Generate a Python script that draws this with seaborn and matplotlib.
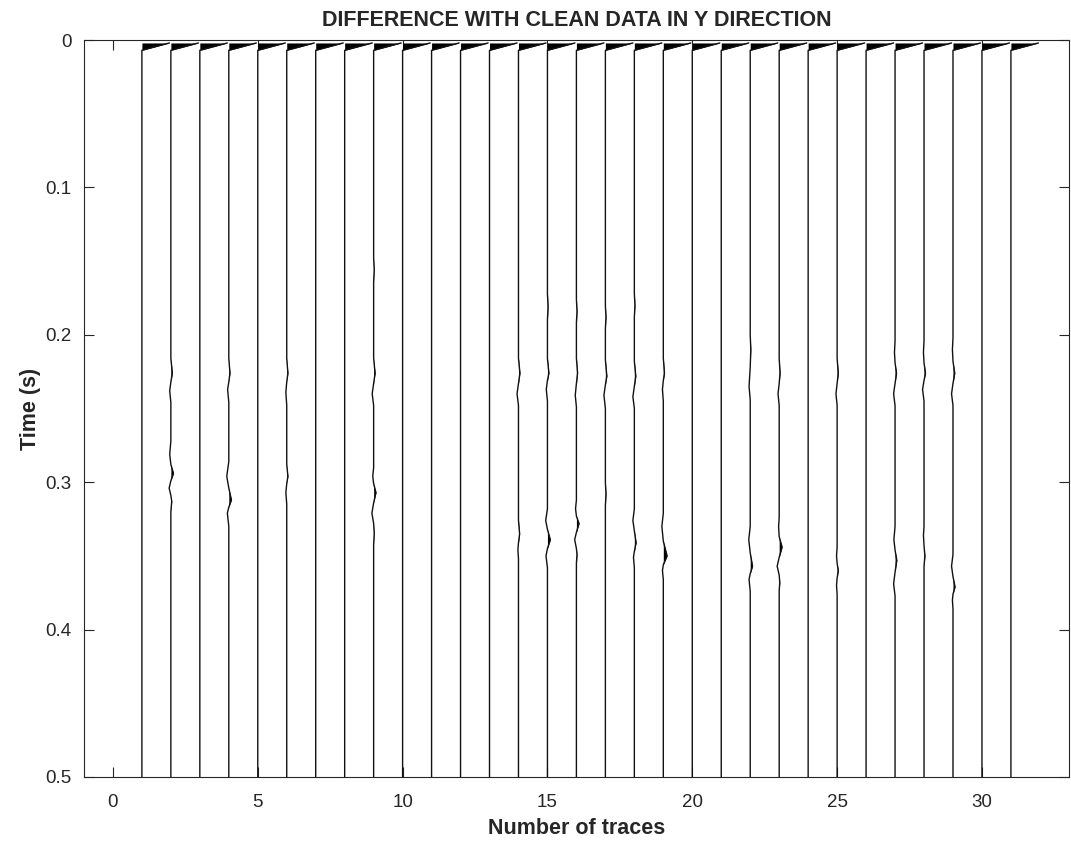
import numpy as np
import pandas as pd
import matplotlib
matplotlib.use("Agg")
import matplotlib.pyplot as plt
import seaborn as sns

# ---------------- data ----------------
trace_ids = list(range(1, 32))
spike_top = 0.002          # first-break spike time (s)
spike_end = 0.007
spike_amp = [0.95] * 31    # spike amplitude of each trace (in trace spacing units)

# small residual wiggles: times (s) and amplitudes for traces that show them
wiggle_t = {
    2:  [0.216, 0.226, 0.232, 0.238, 0.246, 0.272, 0.281, 0.288, 0.294, 0.299, 0.304, 0.309, 0.313, 0.320],
    4:  [0.216, 0.226, 0.232, 0.237, 0.246, 0.286, 0.296, 0.304, 0.312, 0.317, 0.321, 0.330],
    6:  [0.216, 0.226, 0.232, 0.239, 0.248, 0.288, 0.296, 0.301, 0.307, 0.315],
    9:  [0.148, 0.156, 0.164, 0.216, 0.226, 0.233, 0.240, 0.248, 0.290, 0.296, 0.301, 0.307, 0.314, 0.321, 0.328, 0.335, 0.342],
    14: [0.216, 0.226, 0.233, 0.240, 0.248, 0.326, 0.335, 0.341, 0.346, 0.352],
    15: [0.172, 0.181, 0.190, 0.216, 0.226, 0.231, 0.237, 0.245, 0.318, 0.326, 0.332, 0.339, 0.345, 0.350, 0.358],
    16: [0.176, 0.184, 0.192, 0.216, 0.226, 0.233, 0.241, 0.249, 0.312, 0.318, 0.323, 0.328, 0.334, 0.339, 0.345, 0.349, 0.355],
    17: [0.180, 0.188, 0.196, 0.217, 0.228, 0.234, 0.241, 0.250, 0.300, 0.308, 0.316],
    18: [0.172, 0.180, 0.188, 0.218, 0.228, 0.235, 0.242, 0.250, 0.318, 0.326, 0.333, 0.341, 0.347, 0.351, 0.358],
    19: [0.216, 0.226, 0.231, 0.237, 0.245, 0.321, 0.330, 0.340, 0.350, 0.356, 0.360, 0.366],
    22: [0.200, 0.210, 0.222, 0.235, 0.244, 0.330, 0.339, 0.348, 0.357, 0.362, 0.366, 0.374],
    23: [0.216, 0.226, 0.233, 0.240, 0.248, 0.324, 0.330, 0.337, 0.344, 0.351, 0.357, 0.363, 0.368, 0.374],
    25: [0.216, 0.226, 0.233, 0.240, 0.248, 0.344, 0.350, 0.355, 0.360, 0.365, 0.370, 0.376],
    27: [0.204, 0.212, 0.219, 0.226, 0.233, 0.240, 0.248, 0.330, 0.339, 0.346, 0.353, 0.361, 0.369, 0.377],
    28: [0.204, 0.212, 0.219, 0.226, 0.231, 0.237, 0.245, 0.330, 0.336, 0.343, 0.350, 0.357, 0.364],
    29: [0.202, 0.210, 0.218, 0.226, 0.233, 0.240, 0.248, 0.349, 0.357, 0.364, 0.371, 0.376, 0.380, 0.386],
}
wiggle_a = {
    2:  [0, 0.05, 0, -0.04, 0, 0, -0.04, 0, 0.09, 0, -0.06, 0, 0.03, 0],
    4:  [0, 0.04, 0, -0.04, 0, 0, -0.07, 0, 0.09, 0, -0.05, 0],
    6:  [0, 0.04, 0, -0.03, 0, 0, 0.04, 0, -0.03, 0],
    9:  [0, 0.02, 0, 0, 0.05, 0, -0.05, 0, 0, -0.03, 0, 0.08, 0, -0.06, 0, 0.02, 0],
    14: [0, 0.05, 0, -0.05, 0, 0, 0.04, 0, -0.02, 0],
    15: [0, 0.02, 0, 0, 0.05, 0, -0.04, 0, 0, -0.06, 0, 0.10, 0, -0.05, 0],
    16: [0, 0.02, 0, 0, 0.04, 0, -0.04, 0, 0, -0.03, 0, 0.09, 0, -0.06, 0, 0.02, 0],
    17: [0, 0.02, 0, 0, 0.05, 0, -0.05, 0, 0, 0.02, 0],
    18: [0, 0.02, 0, 0, 0.05, 0, -0.05, 0, 0, -0.05, 0, 0.06, 0, -0.03, 0],
    19: [0, 0.04, 0, -0.03, 0, 0, -0.05, 0, 0.13, 0, -0.03, 0],
    22: [0, 0.02, 0, -0.04, 0, 0, -0.05, 0, 0.08, 0, -0.04, 0],
    23: [0, 0.03, 0, -0.04, 0, 0, -0.02, 0, 0.10, 0, -0.07, 0, 0.02, 0],
    25: [0, 0.04, 0, -0.04, 0, 0, -0.02, 0, 0.04, 0, -0.02, 0],
    27: [0, -0.02, 0, 0.05, 0, -0.05, 0, 0, -0.04, 0, 0.06, 0, -0.05, 0],
    28: [0, -0.02, 0, 0.05, 0, -0.05, 0, 0, -0.02, 0, 0.03, 0, 0],
    29: [0, -0.02, 0, 0.06, 0, -0.05, 0, 0, -0.05, 0, 0.07, 0, -0.02, 0],
}
t_max = 0.5

# ---------------- build long table ----------------
rows = []
fills = []
for i, k in enumerate(trace_ids):
    ts = [spike_top, spike_end]
    amps = [spike_amp[i], 0.0]
    if k in wiggle_t:
        ts += wiggle_t[k]
        amps += wiggle_a[k]
    ts.append(t_max)
    amps.append(0.0)
    for order, (t, a) in enumerate(zip(ts, amps)):
        rows.append({"trace": k, "order": order, "time": t, "x": k + a})
    fills.append((k, np.array(ts), np.array(amps)))
df = pd.DataFrame(rows)

# ---------------- plot ----------------
sns.set_theme(style="white")
plt.rcParams["font.family"] = ["Liberation Sans", "DejaVu Sans"]

fig = plt.figure(figsize=(10.71, 8.44), dpi=100)
ax = fig.add_axes([0.0784, 0.0794, 0.9196, 0.8732])

sns.lineplot(data=df, x="x", y="time", units="trace", estimator=None,
             sort=False, color="#111111", linewidth=1.0, ax=ax, legend=False)

for k, ts, amps in fills:
    ax.fill_betweenx(ts, k, k + np.clip(amps, 0, None), color="black", linewidth=0)

ax.set_xlim(-1, 33)
ax.set_ylim(0.5, 0)
ax.set_xticks(range(0, 31, 5))
ax.set_yticks([0, 0.1, 0.2, 0.3, 0.4, 0.5])
ax.set_yticklabels(["0", "0.1", "0.2", "0.3", "0.4", "0.5"])

axis_col = "#262626"
for s in ax.spines.values():
    s.set_visible(True)
    s.set_color(axis_col)
    s.set_linewidth(0.8)
ax.tick_params(which="both", direction="in", length=7, width=0.8, color=axis_col,
               labelcolor=axis_col, labelsize=13.5, top=True, right=True,
               bottom=True, left=True)
ax.tick_params(axis="x", pad=12)
ax.tick_params(axis="y", pad=9)

ax.set_title("DIFFERENCE WITH CLEAN DATA IN Y DIRECTION", fontsize=15.5,
             fontweight="bold", pad=10)
ax.set_xlabel("Number of traces", fontsize=15.5, fontweight="bold", color=axis_col, labelpad=5)
ax.set_ylabel("Time (s)", fontsize=15.5, fontweight="bold", color=axis_col, labelpad=3)

fig.savefig("out.png", dpi=100, facecolor="white")
